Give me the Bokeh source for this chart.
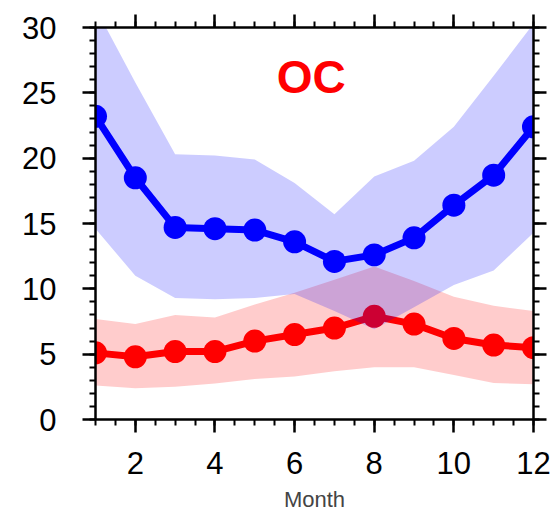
from bokeh.plotting import figure
from bokeh.models import (ColumnDataSource, LinearAxis, SingleIntervalTicker, Range1d, Label,
                          CustomJSTickFormatter)
from bokeh.embed import file_html
from bokeh.resources import INLINE

# Monthly OC climatology: two series, each with a mean and a spread band
months = [1, 2, 3, 4, 5, 6, 7, 8, 9, 10, 11, 12]

blue_mean = [23.2, 18.5, 14.7, 14.6, 14.5, 13.6, 12.1, 12.6, 13.9, 16.4, 18.7, 22.4]
blue_upper = [31.5, 25.8, 20.3, 20.2, 19.9, 18.1, 15.7, 18.6, 19.8, 22.4, 26.3, 30.3]
blue_lower = [14.6, 11.0, 9.3, 9.2, 9.3, 9.6, 8.3, 6.9, 8.6, 10.3, 11.4, 14.3]

red_mean = [5.1, 4.8, 5.2, 5.2, 6.0, 6.5, 7.0, 7.9, 7.3, 6.2, 5.7, 5.5]
red_upper = [7.7, 7.3, 8.0, 7.8, 8.8, 9.7, 10.7, 11.7, 10.6, 9.4, 8.7, 8.3]
red_lower = [2.6, 2.4, 2.5, 2.75, 3.1, 3.3, 3.7, 4.0, 4.0, 3.4, 2.8, 2.7]

title_text = "OC"
x_label = "Month"

FONT = "Liberation Sans"

src = ColumnDataSource(dict(
    month=months,
    b_mean=blue_mean, b_up=blue_upper, b_lo=blue_lower,
    r_mean=red_mean, r_up=red_upper, r_lo=red_lower,
))

p = figure(
    frame_width=438, frame_height=392,
    min_border_left=95, min_border_right=23, min_border_top=27, min_border_bottom=95,
    x_range=Range1d(1, 12), y_range=Range1d(0, 30),
    output_backend="svg", toolbar_location=None,
    x_axis_location=None, y_axis_location=None,
)
p.xgrid.visible = False
p.ygrid.visible = False
p.outline_line_color = None
p.background_fill_color = "white"
p.border_fill_color = "white"

# spread bands and lines; the blue band lies over the red line
p.varea(x="month", y1="r_lo", y2="r_up", source=src, fill_color="#ff0000", fill_alpha=0.2)
p.line(x="month", y="r_mean", source=src, line_color="#ff0000", line_width=7)
p.scatter(x="month", y="r_mean", source=src, size=23, fill_color="#ff0000", line_color=None)

p.varea(x="month", y1="b_lo", y2="b_up", source=src, fill_color="#0000ff", fill_alpha=0.2)
p.line(x="month", y="b_mean", source=src, line_color="#0000ff", line_width=7)
p.scatter(x="month", y="b_mean", source=src, size=23, fill_color="#0000ff", line_color=None)

p.add_layout(Label(x=6.42, y=26.2, text=title_text, text_color="#ff0000",
                   text_font=FONT, text_font_size="46px", text_font_style="bold",
                   text_align="center", text_baseline="middle"))


def style_axis(ax, labelled):
    ax.axis_line_width = 2.5
    ax.axis_line_color = "black"
    ax.major_tick_line_width = 2.5
    ax.minor_tick_line_width = 2
    ax.major_tick_in = 0
    ax.minor_tick_in = 0
    ax.major_tick_out = 13
    ax.minor_tick_out = 6
    ax.major_label_text_font = FONT
    ax.major_label_text_color = "black"
    ax.major_label_text_font_size = "31px"
    if not labelled:
        # tick marks only on the opposite sides of the frame
        ax.formatter = CustomJSTickFormatter(code="return ''")
        ax.major_label_standoff = 0


xticker = SingleIntervalTicker(interval=2, num_minor_ticks=4)
yticker = SingleIntervalTicker(interval=5, num_minor_ticks=5)

bottom = LinearAxis(ticker=xticker, axis_label=x_label)
style_axis(bottom, True)
bottom.major_label_standoff = 19
bottom.axis_label_text_font = FONT
bottom.axis_label_text_font_size = "22px"
bottom.axis_label_text_font_style = "normal"
bottom.axis_label_standoff = 10
p.add_layout(bottom, "below")

top = LinearAxis(ticker=xticker)
style_axis(top, False)
p.add_layout(top, "above")

left = LinearAxis(ticker=yticker)
style_axis(left, True)
left.major_label_standoff = 26
p.add_layout(left, "left")

right = LinearAxis(ticker=yticker)
style_axis(right, False)
p.add_layout(right, "right")

open("out.html", "w").write(file_html(p, INLINE))
